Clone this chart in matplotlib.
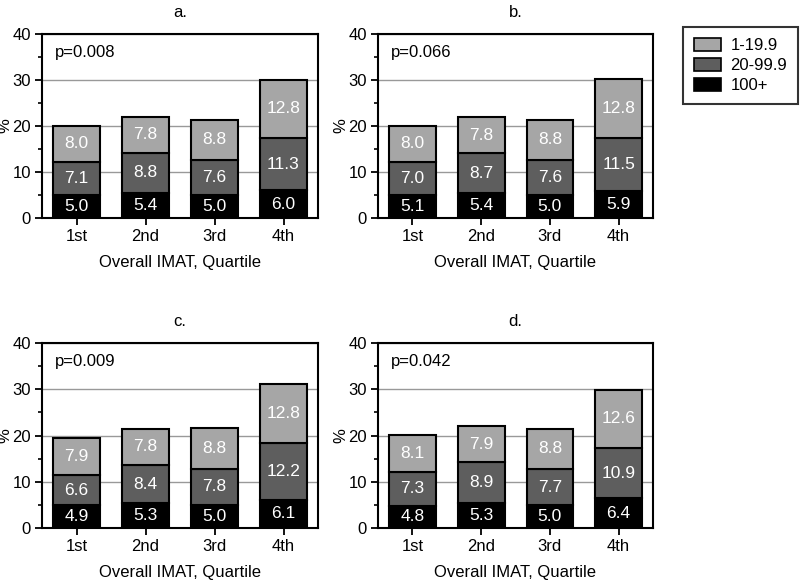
import numpy as np
from matplotlib import pyplot as plt
from matplotlib.patches import Patch

plt.rcParams['font.family'] = ['Liberation Sans', 'DejaVu Sans']

quartiles = ['1st', '2nd', '3rd', '4th']
panels = ['a.', 'b.', 'c.', 'd.']
pvalues = ['p=0.008', 'p=0.066', 'p=0.009', 'p=0.042']
series = ['100+', '20-99.9', '1-19.9']

# per panel: rows = 100+, 20-99.9, 1-19.9
a_vals = [[5.0, 5.4, 5.0, 6.0], [7.1, 8.8, 7.6, 11.3], [8.0, 7.8, 8.8, 12.8]]
b_vals = [[5.1, 5.4, 5.0, 5.9], [7.0, 8.7, 7.6, 11.5], [8.0, 7.8, 8.8, 12.8]]
c_vals = [[4.9, 5.3, 5.0, 6.1], [6.6, 8.4, 7.8, 12.2], [7.9, 7.8, 8.8, 12.8]]
d_vals = [[4.8, 5.3, 5.0, 6.4], [7.3, 8.9, 7.7, 10.9], [8.1, 7.9, 8.8, 12.6]]
all_vals = [a_vals, b_vals, c_vals, d_vals]

colours = ['#000000', '#5e5e5e', '#a6a6a6']

fig = plt.figure(figsize=(8, 5.81), dpi=100)
W, H = 800, 581
# axes boxes in pixels: left, top, right, bottom
boxes = [(42, 34, 318, 218), (378, 34, 653, 218),
         (42, 343, 318, 528), (378, 343, 653, 528)]

fs = 12
for box, vals, title, ptxt in zip(boxes, all_vals, panels, pvalues):
    l, t, r, b = box
    ax = fig.add_axes([l / W, 1 - b / H, (r - l) / W, (b - t) / H])
    x = np.arange(len(quartiles))
    bottom = np.zeros(len(quartiles))
    for v, c in zip(vals, colours):
        v = np.array(v)
        ax.bar(x, v, 0.68, bottom=bottom, color=c, edgecolor='black',
               linewidth=1.5, zorder=3)
        for xi, bi, vi in zip(x, bottom, v):
            ax.text(xi, bi + vi / 2, f'{vi:.1f}', ha='center', va='center',
                    color='white', fontsize=12.5, zorder=4)
        bottom += v
    ax.set_xlim(-0.5, 3.5)
    ax.set_ylim(0, 40)
    ax.set_yticks([0, 10, 20, 30, 40])
    ax.set_yticks([5, 15, 25, 35], minor=True)
    ax.set_xticks(x)
    ax.set_xticklabels(quartiles)
    ax.yaxis.grid(True, color='#999999', linewidth=1, zorder=0)
    ax.tick_params(axis='both', which='major', labelsize=fs, length=5,
                   width=1.3, direction='out', pad=3)
    ax.tick_params(axis='y', which='minor', length=3, width=1.2)
    for s in ax.spines.values():
        s.set_linewidth(1.5)
    ax.set_title(title, fontsize=fs, pad=12)
    ax.set_xlabel('Overall IMAT, Quartile', fontsize=fs, labelpad=8)
    ax.set_ylabel('%', fontsize=fs, labelpad=0)
    ax.text(0.047, 0.90, ptxt, transform=ax.transAxes, fontsize=fs,
            ha='left', va='center', zorder=5)

handles = [Patch(facecolor=c, edgecolor='black', linewidth=1.2)
           for c in colours[::-1]]
leg = fig.legend(handles, series[::-1], loc='upper left',
                 bbox_to_anchor=(683 / W, 1 - 27 / H), fontsize=fs,
                 frameon=True, fancybox=False, edgecolor='black',
                 handlelength=1.6, handleheight=0.8, borderpad=0.65,
                 labelspacing=0.3, handletextpad=0.6, borderaxespad=0)
leg.get_frame().set_linewidth(1.5)

fig.savefig('out.png', dpi=100)
